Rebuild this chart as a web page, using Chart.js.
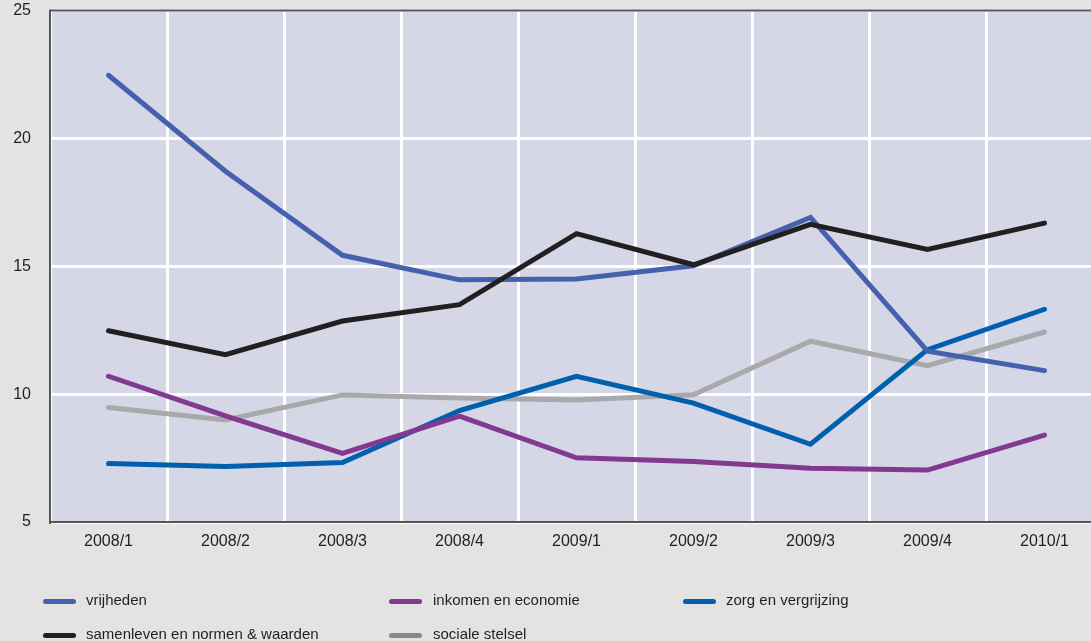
<!DOCTYPE html>
<html>
<head>
<meta charset="utf-8">
<script src="https://cdn.jsdelivr.net/npm/chart.js@4/dist/chart.umd.min.js"></script>
<style>
  html, body { margin: 0; padding: 0; background: #e2e3e2; overflow: hidden; width: 1091px; height: 641px; }
  #wrap { position: absolute; left: 0; top: -18px; width: 1103px; height: 659px; }
  .lg { position: absolute; font-family: "Liberation Sans", Arial, sans-serif; font-size: 15px; color: #231f20; white-space: nowrap; line-height: 18px; }
  .sw { position: absolute; height: 5px; width: 33px; border-radius: 3px; }
</style>
</head>
<body>
<div id="wrap"><canvas id="c" width="1103" height="659"></canvas></div>
<script>
const categories = ["2008/1","2008/2","2008/3","2008/4","2009/1","2009/2","2009/3","2009/4","2010/1"];
const seriesNames = ["vrijheden","inkomen en economie","zorg en vergrijzing","samenleven en normen & waarden","sociale stelsel"];
const vrijheden   = [22.47, 18.72, 15.43, 14.47, 14.5, 15.02, 16.91, 11.68, 10.92];
const inkomen     = [10.70, 9.15, 7.68, 9.14, 7.51, 7.37, 7.10, 7.03, 8.40];
const zorg        = [7.29, 7.17, 7.33, 9.36, 10.70, 9.65, 8.04, 11.74, 13.32];
const samenleven  = [12.48, 11.54, 12.86, 13.50, 16.28, 15.06, 16.64, 15.66, 16.69];
const sociale     = [9.48, 8.99, 9.97, 9.85, 9.77, 9.98, 12.07, 11.11, 12.43];
const yTicks = [5, 10, 15, 20, 25];

const lineColors   = ["#4560ad", "#82398f", "#0060ae", "#231f20", "#a9a9ab"];
const legendColors = ["#4560ad", "#82398f", "#0060ae", "#231f20", "#8a8a8c"];
const drawOrder    = [2, 1, 3, 0, 4];
const seriesValues = [vrijheden, inkomen, zorg, samenleven, sociale];

const datasets = seriesNames.map((n, i) => ({
  label: n,
  data: seriesValues[i],
  borderColor: lineColors[i],
  backgroundColor: lineColors[i],
  borderWidth: 5,
  borderCapStyle: 'round',
  borderJoinStyle: 'miter',
  pointRadius: 0,
  tension: 0,
  fill: false,
  order: drawOrder[i]
}));

const bgPlugin = {
  id: 'bg',
  beforeDraw(chart) {
    const {ctx, chartArea: a} = chart;
    ctx.save();
    ctx.fillStyle = '#d5d6e6';
    ctx.fillRect(a.left, a.top, a.right - a.left, a.bottom - a.top);
    ctx.restore();
  },
  beforeDatasetsDraw(chart) {
    const {ctx, chartArea: a} = chart;
    ctx.save();
    ctx.strokeStyle = '#555555';
    ctx.lineWidth = 2;
    ctx.beginPath();
    ctx.moveTo(a.left - 1, a.top);
    ctx.lineTo(a.right, a.top);
    ctx.stroke();
    ctx.restore();
  }
};

new Chart(document.getElementById('c'), {
  type: 'line',
  data: { labels: categories, datasets },
  plugins: [bgPlugin],
  options: {
    responsive: false,
    animation: false,
    layout: { padding: { top: 10, right: 0, bottom: 79, left: 0 } },
    plugins: { legend: { display: false }, tooltip: { enabled: false } },
    scales: {
      x: {
        type: 'category',
        offset: true,
        grid: { color: '#ffffff', lineWidth: 3, drawTicks: false, offset: true },
        border: { color: '#555555', width: 2 },
        ticks: { color: '#231f20', font: { family: '"Liberation Sans", Arial, sans-serif', size: 16 }, padding: 10, maxRotation: 0, autoSkip: false },
        afterFit(s) { s.height = 40; }
      },
      y: {
        min: 5, max: 25,
        afterBuildTicks(s) { s.ticks = yTicks.map(v => ({ value: v })); },
        grid: { color: '#ffffff', lineWidth: 3, drawTicks: false },
        border: { color: '#555555', width: 2 },
        ticks: { color: '#231f20', font: { family: '"Liberation Sans", Arial, sans-serif', size: 16 }, padding: 19 },
        afterFit(s) { s.width = 50; }
      }
    }
  }
});

// legend (HTML, built from the series arrays)
const legendPos = [
  { sx: 43, tx: 86, y: 601 },
  { sx: 389, tx: 433, y: 601 },
  { sx: 683, tx: 726, y: 601 },
  { sx: 43, tx: 86, y: 635 },
  { sx: 389, tx: 433, y: 635 }
];
seriesNames.forEach((n, i) => {
  const p = legendPos[i];
  const sw = document.createElement('div');
  sw.className = 'sw';
  sw.style.left = p.sx + 'px';
  sw.style.top = (p.y - 2.5) + 'px';
  sw.style.background = legendColors[i];
  document.body.appendChild(sw);
  const t = document.createElement('div');
  t.className = 'lg';
  t.style.left = p.tx + 'px';
  t.style.top = (p.y - 10) + 'px';
  t.textContent = n;
  document.body.appendChild(t);
});
</script>
</body>
</html>
